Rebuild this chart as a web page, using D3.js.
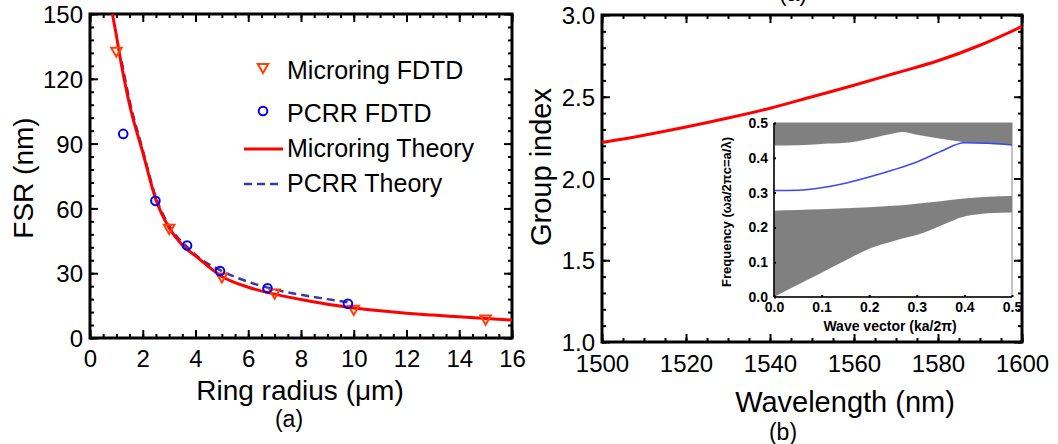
<!DOCTYPE html>
<html>
<head>
<meta charset="utf-8">
<script src="https://cdn.jsdelivr.net/npm/d3@7"></script>
<style>
  body { margin: 0; background: #fff; }
  svg text { font-family: "Liberation Sans", Arial, Helvetica, sans-serif; }
</style>
</head>
<body>
<svg width="1058" height="444"></svg>
<script>
// ---- panel (a) data : FSR vs ring radius
var mrFdtdRadius = [1.0, 3.0, 5.0, 7.0, 10.0, 15.0];
var mrFdtdFsr = [133, 51, 28.5, 21, 13.5, 9];
var pcFdtdRadius = [1.26, 2.48, 3.68, 4.93, 6.73, 9.78];
var pcFdtdFsr = [94.5, 63.5, 42.8, 31, 23, 15.8];
var mrTheoryRadius = [0.85, 1.0, 1.2, 1.5, 2.0, 2.5, 3.0, 3.5, 4.0, 5.0, 6.0, 7.0, 8.0, 9.0, 10, 11, 12, 13, 14, 15, 16];
var mrTheoryFsr = [150, 140, 126, 108, 86, 64, 51, 43, 38, 28.5, 23.5, 20.3, 17.8, 15.6, 13.9, 12.6, 11.5, 10.6, 9.8, 9.0, 8.3];
var pcTheoryRadius = [1.2, 1.5, 2.0, 2.5, 3.0, 3.7, 4.0, 5.0, 6.0, 7.0, 8.0, 9.0, 9.9];
var pcTheoryFsr = [128, 110, 87, 65, 52, 42, 38.5, 31, 26, 22.5, 20, 18, 16.3];
var legendLabels = ["Microring FDTD", "PCRR FDTD", "Microring Theory", "PCRR Theory"];

// ---- panel (b) data : group index vs wavelength
var wavelength = [1500, 1510, 1520, 1530, 1540, 1550, 1560, 1570, 1580, 1590, 1600];
var groupIndex = [2.22, 2.265, 2.315, 2.37, 2.43, 2.50, 2.57, 2.645, 2.72, 2.815, 2.93];

// ---- inset data : band diagram
var bandK = [0, 0.05, 0.1, 0.15, 0.2, 0.25, 0.27, 0.3, 0.35, 0.4, 0.45, 0.5];
var upperBandBottom = [0.435, 0.436, 0.44, 0.443, 0.455, 0.47, 0.474, 0.466, 0.455, 0.445, 0.44, 0.437];
var lowerBandTop = [0.248, 0.25, 0.252, 0.255, 0.258, 0.262, 0.264, 0.268, 0.275, 0.283, 0.288, 0.29];
var lowerBandBottom = [0, 0.035, 0.07, 0.105, 0.139, 0.16, 0.168, 0.178, 0.205, 0.231, 0.241, 0.243];
var modeK = [0, 0.05, 0.1, 0.15, 0.2, 0.25, 0.3, 0.35, 0.4, 0.45, 0.5];
var modeFreq = [0.306, 0.307, 0.314, 0.327, 0.345, 0.365, 0.388, 0.418, 0.443, 0.442, 0.437];

var svg = d3.select("svg");
var font = "'Liberation Sans', Arial, Helvetica, sans-serif";

var xL = d3.scaleLinear().domain([0, 16]).range([90, 512]),
    yL = d3.scaleLinear().domain([0, 150]).range([338, 14]),
    xR = d3.scaleLinear().domain([1500, 1600]).range([602, 1022]),
    yR = d3.scaleLinear().domain([1, 3]).range([342, 15]),
    xI = d3.scaleLinear().domain([0, 0.5]).range([774, 1012]),
    yI = d3.scaleLinear().domain([0, 0.5]).range([297, 123]);

function zip(a, b) { return a.map(function(v, i) { return [v, b[i]]; }); }

function ticks(axis, tx, ty, size) {
    var g = svg.append("g")
        .attr("transform", "translate(" + tx + "," + ty + ")")
        .call(axis);
    g.select(".domain").remove();
    g.attr("font-family", font).attr("font-size", size || 24);
    g.selectAll("line").attr("stroke", "#000").attr("stroke-width", 2);
    g.selectAll("text").attr("fill", "#000");
    return g;
}

// inward ticks on all four sides + frame
function frame(x, y, xMajor, xMinor, yMajor, yMinor, padX, padY) {
    var x0 = x.range()[0], x1 = x.range()[1], y0 = y.range()[0], y1 = y.range()[1];
    ticks(d3.axisBottom(x).tickValues(xMinor).tickSize(-4).tickFormat(""), 0, y0);
    ticks(d3.axisTop(x).tickValues(xMinor).tickSize(-4).tickFormat(""), 0, y1);
    ticks(d3.axisLeft(y).tickValues(yMinor).tickSize(-4).tickFormat(""), x0, 0);
    ticks(d3.axisRight(y).tickValues(yMinor).tickSize(-4).tickFormat(""), x1, 0);
    ticks(d3.axisBottom(x).tickValues(xMajor).tickSize(-8).tickPadding(padX).tickFormat(d3.format("d")), 0, y0);
    ticks(d3.axisTop(x).tickValues(xMajor).tickSize(-8).tickFormat(""), 0, y1);
    ticks(d3.axisLeft(y).tickValues(yMajor).tickSize(-8).tickPadding(padY).tickFormat(y.domain()[1] < 10 ? d3.format(".1f") : d3.format("d")), x0, 0)
        .selectAll("text").attr("dy", "0.36em");
    ticks(d3.axisRight(y).tickValues(yMajor).tickSize(-8).tickFormat(""), x1, 0);
    svg.append("rect")
        .attr("x", x0).attr("y", y1)
        .attr("width", x1 - x0).attr("height", y0 - y1)
        .attr("fill", "none").attr("stroke", "#000").attr("stroke-width", 3);
}

// ================= panel (a)
frame(xL, yL, d3.range(0, 17, 2), d3.range(0, 16.01, 0.5), d3.range(0, 151, 30), d3.range(0, 151, 6), 12, 7);

svg.append("defs").append("clipPath")
    .attr("id", "clipA")
    .append("rect")
    .attr("x", 90).attr("y", 14)
    .attr("width", 422).attr("height", 324);

var lineA = d3.line()
    .curve(d3.curveMonotoneX)
    .x(function(d) { return xL(d[0]); })
    .y(function(d) { return yL(d[1]); });

svg.append("path")
    .datum(zip(pcTheoryRadius, pcTheoryFsr))
    .attr("clip-path", "url(#clipA)")
    .attr("fill", "none")
    .attr("stroke", "#3a3a9c")
    .attr("stroke-width", 2.5)
    .attr("stroke-dasharray", "8,5")
    .attr("d", lineA);

svg.append("path")
    .datum(zip(mrTheoryRadius, mrTheoryFsr))
    .attr("clip-path", "url(#clipA)")
    .attr("fill", "none")
    .attr("stroke", "#ff0000")
    .attr("stroke-width", 3)
    .attr("d", lineA);

var tri = d3.symbol().type(d3.symbolTriangle).size(48);

svg.selectAll(".mrpt")
    .data(zip(mrFdtdRadius, mrFdtdFsr))
    .enter().append("path")
    .attr("class", "mrpt")
    .attr("d", tri)
    .attr("transform", function(d) { return "translate(" + xL(d[0]) + "," + yL(d[1]) + ") rotate(180)"; })
    .attr("fill", "none")
    .attr("stroke", "#ff4000")
    .attr("stroke-width", 2);

svg.selectAll(".pcpt")
    .data(zip(pcFdtdRadius, pcFdtdFsr))
    .enter().append("circle")
    .attr("class", "pcpt")
    .attr("cx", function(d) { return xL(d[0]); })
    .attr("cy", function(d) { return yL(d[1]); })
    .attr("r", 4.3)
    .attr("fill", "none")
    .attr("stroke", "#0000ff")
    .attr("stroke-width", 2);

// legend
var leg = svg.append("g").attr("font-family", font).attr("font-size", 25);
leg.selectAll("text")
    .data(legendLabels)
    .enter().append("text")
    .attr("x", 287)
    .attr("y", function(d, i) { return [79, 122, 157, 192][i]; })
    .text(function(d) { return d; });
leg.append("path")
    .attr("d", tri)
    .attr("transform", "translate(263,67) rotate(180)")
    .attr("fill", "none").attr("stroke", "#ff4000").attr("stroke-width", 2);
leg.append("circle")
    .attr("cx", 263).attr("cy", 111).attr("r", 4.3)
    .attr("fill", "none").attr("stroke", "#0000ff").attr("stroke-width", 2);
leg.append("line")
    .attr("x1", 244).attr("x2", 283).attr("y1", 149).attr("y2", 149)
    .attr("stroke", "#ff0000").attr("stroke-width", 3);
leg.append("line")
    .attr("x1", 244).attr("x2", 283).attr("y1", 184).attr("y2", 184)
    .attr("stroke", "#3a3a9c").attr("stroke-width", 2.5).attr("stroke-dasharray", "8,5");

svg.append("text")
    .attr("transform", "translate(33,178) rotate(-90)")
    .attr("text-anchor", "middle")
    .attr("font-size", 28)
    .text("FSR (nm)");
svg.append("text")
    .attr("x", 300).attr("y", 400)
    .attr("text-anchor", "middle")
    .attr("font-size", 28)
    .text("Ring radius (\u03bcm)");
svg.append("text")
    .attr("x", 289).attr("y", 427)
    .attr("text-anchor", "middle")
    .attr("font-size", 23)
    .text("(a)");

// ================= panel (b)
frame(xR, yR, d3.range(1500, 1601, 20), d3.range(1500, 1601, 5), d3.range(1, 3.01, 0.5), d3.range(1, 3.01, 0.1), 13, 7);

svg.append("path")
    .datum(zip(wavelength, groupIndex))
    .attr("fill", "none")
    .attr("stroke", "#ff0000")
    .attr("stroke-width", 3)
    .attr("d", d3.line()
        .curve(d3.curveMonotoneX)
        .x(function(d) { return xR(d[0]); })
        .y(function(d) { return yR(d[1]); }));

svg.append("text")
    .attr("transform", "translate(551,167) rotate(-90)")
    .attr("text-anchor", "middle")
    .attr("font-size", 29)
    .text("Group index");
svg.append("text")
    .attr("x", 845).attr("y", 412)
    .attr("text-anchor", "middle")
    .attr("font-size", 29)
    .text("Wavelength (nm)");
svg.append("text")
    .attr("x", 783).attr("y", 440)
    .attr("text-anchor", "middle")
    .attr("font-size", 23)
    .text("(b)");
// clipped label of the panel above
svg.append("text")
    .attr("x", 793).attr("y", 1)
    .attr("text-anchor", "middle")
    .attr("font-size", 23)
    .text("(a)");

// ================= inset band diagram
svg.append("rect")
    .attr("x", 774).attr("y", 123)
    .attr("width", 238).attr("height", 174)
    .attr("fill", "#fff").attr("stroke", "#888").attr("stroke-width", 1);

var bandArea = d3.area()
    .curve(d3.curveMonotoneX)
    .x(function(d) { return xI(d[0]); });

svg.append("path")
    .datum(bandK.map(function(k, i) { return [k, upperBandBottom[i], 0.5]; }))
    .attr("fill", "#808080")
    .attr("d", bandArea.y0(function(d) { return yI(d[1]); }).y1(function(d) { return yI(d[2]); }));

svg.append("path")
    .datum(bandK.map(function(k, i) { return [k, lowerBandBottom[i], lowerBandTop[i]]; }))
    .attr("fill", "#808080")
    .attr("d", bandArea.y0(function(d) { return yI(d[1]); }).y1(function(d) { return yI(d[2]); }));

svg.append("path")
    .datum(zip(modeK, modeFreq))
    .attr("fill", "none")
    .attr("stroke", "#3b46ff")
    .attr("stroke-width", 1.5)
    .attr("d", d3.line()
        .curve(d3.curveMonotoneX)
        .x(function(d) { return xI(d[0]); })
        .y(function(d) { return yI(d[1]); }));

var iy = ticks(d3.axisLeft(yI).tickValues(d3.range(0, 0.51, 0.1)).tickSize(-2).tickPadding(6).tickFormat(d3.format(".1f")), 774, 0, 14);
iy.attr("font-weight", "bold");
var ix = ticks(d3.axisBottom(xI).tickValues(d3.range(0, 0.51, 0.1)).tickSize(-2).tickPadding(5).tickFormat(d3.format(".1f")), 0, 297, 14);
ix.attr("font-weight", "bold");
svg.append("line").attr("x1", 774).attr("x2", 774).attr("y1", 123).attr("y2", 297).attr("stroke", "#000").attr("stroke-width", 1.5);
svg.append("line").attr("x1", 774).attr("x2", 1012).attr("y1", 297).attr("y2", 297).attr("stroke", "#000").attr("stroke-width", 1.5);

svg.append("text")
    .attr("x", 890).attr("y", 331)
    .attr("text-anchor", "middle")
    .attr("font-size", 14)
    .attr("font-weight", "bold")
    .text("Wave vector (ka/2\u03c0)");
svg.append("text")
    .attr("transform", "translate(731,212) rotate(-90)")
    .attr("text-anchor", "middle")
    .attr("font-size", 13)
    .attr("font-weight", "bold")
    .text("Frequency (\u03c9a/2\u03c0c=a/\u03bb)");
</script>
</body>
</html>
